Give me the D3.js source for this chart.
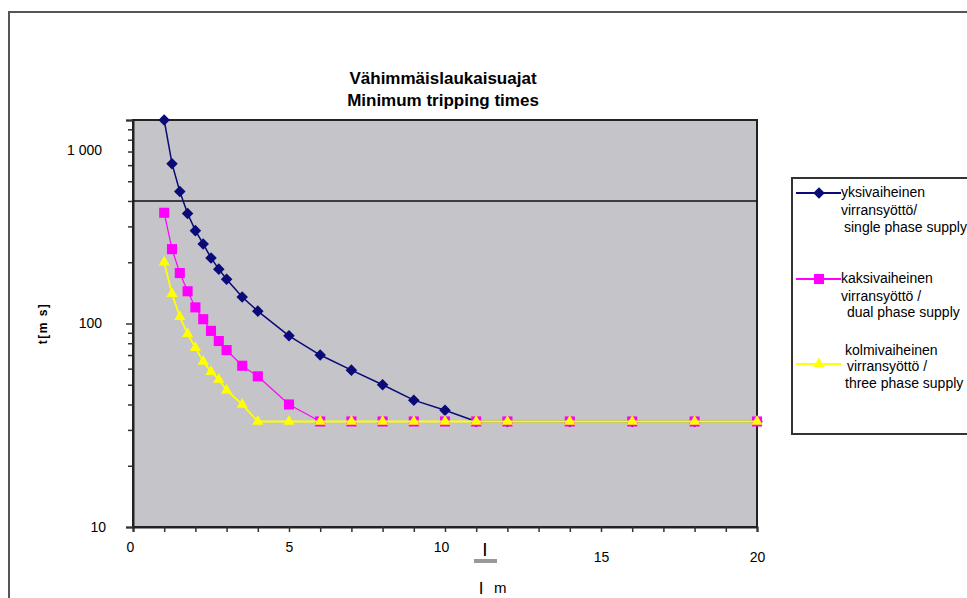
<!DOCTYPE html>
<html>
<head>
<meta charset="utf-8">
<script src="https://cdn.jsdelivr.net/npm/d3@7/dist/d3.min.js"></script>
<style>
  body { margin: 0; background: #fff; }
  svg { display: block; font-family: "Liberation Sans", Arial, sans-serif; }
</style>
</head>
<body>
<svg id="chart" width="967" height="598"></svg>
<script>
// current multiples (x) shared by the series
let xs_single = [1, 1.25, 1.5, 1.75, 2, 2.25, 2.5, 2.75, 3, 3.5, 4, 5, 6, 7, 8, 9, 10, 11, 12, 14, 16, 18, 20];
let t_single  = [1000, 610, 445, 347, 286, 246, 210, 185, 165, 135, 115, 87, 70, 59, 50, 42, 37.5, 33, 33, 33, 33, 33, 33];

let xs_dual = [1, 1.25, 1.5, 1.75, 2, 2.25, 2.5, 2.75, 3, 3.5, 4, 5, 6, 7, 8, 9, 10, 11, 12, 14, 16, 18, 20];
let t_dual  = [350, 232, 177, 144, 120, 105, 92, 82, 74, 62, 55, 40, 33, 33, 33, 33, 33, 33, 33, 33, 33, 33, 33];

let xs_three = [1, 1.25, 1.5, 1.75, 2, 2.25, 2.5, 2.75, 3, 3.5, 4, 5, 6, 7, 8, 9, 10, 11, 12, 14, 16, 18, 20];
let t_three  = [200, 140, 108, 89, 76, 65, 58, 53, 47, 40, 33, 33, 33, 33, 33, 33, 33, 33, 33, 33, 33, 33, 33];

let limit_line = 400;
let x_ticks = [0, 5, 10, 15, 20];
let y_ticks = [10, 100, 1000];
let title_lines = ["Vähimmäislaukaisuajat", "Minimum tripping times"];
let legend_lines = [
    ["yksivaiheinen", "virransyöttö/", "single phase supply"],
    ["kaksivaiheinen", "virransyöttö /", " dual phase supply"],
    ["kolmivaiheinen", "virransyöttö /", "three phase supply"]
];

function zip(xs, ts) { return xs.map(function(x, i) { return {x: x, t: ts[i]}; }); }

let chart = d3.select("#chart");

// outer frame
chart.append("rect")
    .attr("x", 9).attr("y", 12)
    .attr("width", 980).attr("height", 600)
    .attr("fill", "#fff")
    .attr("stroke", "#555")
    .attr("stroke-width", 2);

let x = d3.scaleLinear().domain([0, 20]).range([133, 757]);
let y = d3.scaleLog().domain([10, 1000]).range([527, 120]);

// plot area
chart.append("rect")
    .attr("x", x(0)).attr("y", y(1000))
    .attr("width", x(20) - x(0)).attr("height", y(10) - y(1000))
    .attr("fill", "#c5c4c8")
    .attr("stroke", "#222")
    .attr("stroke-width", 2);

// title
chart.selectAll("text.title")
    .data(title_lines)
    .enter()
    .append("text")
    .attr("class", "title")
    .attr("x", 443)
    .attr("y", function(d, i) { return 84 + i * 22; })
    .attr("text-anchor", "middle")
    .style("font-size", "17px")
    .style("font-weight", "bold")
    .text(function(d) { return d; });

// x axis, ticks every unit
let xAxis = d3.axisBottom(x)
    .tickValues(d3.range(0, 21))
    .tickSize(5)
    .tickPadding(12)
    .tickFormat(function(d) { return x_ticks.indexOf(d) >= 0 ? d : ""; });
let xAxisGroup = chart.append("g")
    .attr("transform", "translate(0," + y(10) + ")")
    .call(xAxis);
xAxisGroup.select(".domain").attr("stroke", "#222").attr("stroke-width", 2);
xAxisGroup.selectAll(".tick line").attr("stroke", "#333").attr("stroke-width", 1.5);
xAxisGroup.selectAll(".tick text")
    .style("font-size", "14px")
    .attr("dx", function(d) { return d == 0 ? -3 : (d == 10 ? -4 : 0); })
    .attr("y", function(d) { return d > 10 ? 25 : 15; });

// y axis, log scale with minor ticks
let minor = [];
[10, 100].forEach(function(dec) { for (let k = 2; k < 10; k++) minor.push(dec * k); });
let yMinor = d3.axisLeft(y).tickValues(minor).tickSize(5).tickFormat("");
chart.append("g")
    .attr("transform", "translate(" + x(0) + ",0)")
    .call(yMinor)
    .call(function(g) {
        g.select(".domain").remove();
        g.selectAll(".tick line").attr("stroke", "#333").attr("stroke-width", 1.5);
    });

let yAxis = d3.axisLeft(y)
    .tickValues(y_ticks)
    .tickSize(7)
    .tickPadding(24)
    .tickFormat(function(d) { return d == 1000 ? "1 000" : d; });
let yAxisGroup = chart.append("g")
    .attr("transform", "translate(" + x(0) + ",0)")
    .call(yAxis);
yAxisGroup.select(".domain").attr("stroke", "#222").attr("stroke-width", 2);
yAxisGroup.selectAll(".tick line").attr("stroke", "#333").attr("stroke-width", 1.5);
yAxisGroup.selectAll(".tick text")
    .style("font-size", "14px")
    .attr("dx", function(d) { return d == 10 ? 4 : 0; })
    .attr("dy", function(d) { return d == 1000 ? 34 : "0.32em"; });

// y label
chart.append("text")
    .attr("transform", "translate(47," + y(100) + ") rotate(-90)")
    .attr("text-anchor", "middle")
    .style("font-size", "12px")
    .style("font-weight", "bold")
    .style("letter-spacing", "1.5px")
    .text("t[m s]");

// x label: I with bar, then I m
chart.append("text")
    .attr("x", 485).attr("y", 556)
    .attr("text-anchor", "middle")
    .style("font-size", "19px")
    .text("I");
chart.append("rect")
    .attr("x", 474).attr("y", 559)
    .attr("width", 23).attr("height", 4)
    .attr("fill", "#999");
chart.append("text")
    .attr("x", 481).attr("y", 594)
    .attr("text-anchor", "middle")
    .style("font-size", "17px")
    .text("I");
chart.append("text")
    .attr("x", 494).attr("y", 593)
    .style("font-size", "15px")
    .text("m");

// 400 ms limit line
chart.append("line")
    .attr("x1", x(0)).attr("x2", x(20))
    .attr("y1", y(limit_line)).attr("y2", y(limit_line))
    .attr("stroke", "#111")
    .attr("stroke-width", 1.5);

let line = d3.line()
    .x(function(d) { return x(d.x); })
    .y(function(d) { return y(d.t); });

let diamond = d3.symbol().type(d3.symbolDiamond2).size(85);
let square = d3.symbol().type(d3.symbolSquare2).size(130);
let triangle = d3.symbol().type(d3.symbolTriangle2).size(90);

let series = [
    {data: zip(xs_single, t_single), color: "#0a0a78", width: 1.5, sym: diamond},
    {data: zip(xs_dual, t_dual), color: "#ff00ff", width: 1.2, sym: square},
    {data: zip(xs_three, t_three), color: "#ffff00", width: 1.8, sym: triangle}
];

series.forEach(function(s) {
    chart.append("path")
        .datum(s.data)
        .attr("fill", "none")
        .attr("stroke", s.color)
        .attr("stroke-width", s.width)
        .attr("d", line);
    chart.append("g")
        .selectAll("path")
        .data(s.data)
        .enter()
        .append("path")
        .attr("transform", function(d) { return "translate(" + x(d.x) + "," + y(d.t) + ")"; })
        .attr("d", s.sym)
        .attr("fill", s.color);
});

// legend
chart.append("rect")
    .attr("x", 792).attr("y", 178)
    .attr("width", 200).attr("height", 256)
    .attr("fill", "#fff")
    .attr("stroke", "#333")
    .attr("stroke-width", 2);

let legend_pos = [
    {line: 193, text: [192, 210, 227], dx: [841, 841, 844]},
    {line: 279, text: [278, 296, 312], dx: [841, 841, 843]},
    {line: 364, text: [350, 366, 383], dx: [845, 847, 845]}
];

series.forEach(function(s, i) {
    let p = legend_pos[i];
    chart.append("line")
        .attr("x1", 796).attr("x2", 841)
        .attr("y1", p.line).attr("y2", p.line)
        .attr("stroke", s.color)
        .attr("stroke-width", 2);
    chart.append("path")
        .attr("transform", "translate(819," + p.line + ")")
        .attr("d", s.sym)
        .attr("fill", s.color);
    chart.selectAll("text.leg" + i)
        .data(legend_lines[i])
        .enter()
        .append("text")
        .attr("class", "leg" + i)
        .attr("x", function(d, j) { return p.dx[j]; })
        .attr("y", function(d, j) { return p.text[j]; })
        .attr("dy", "0.35em")
        .style("font-size", "14px")
        .style("white-space", "pre")
        .text(function(d) { return d; });
});
</script>
</body>
</html>
